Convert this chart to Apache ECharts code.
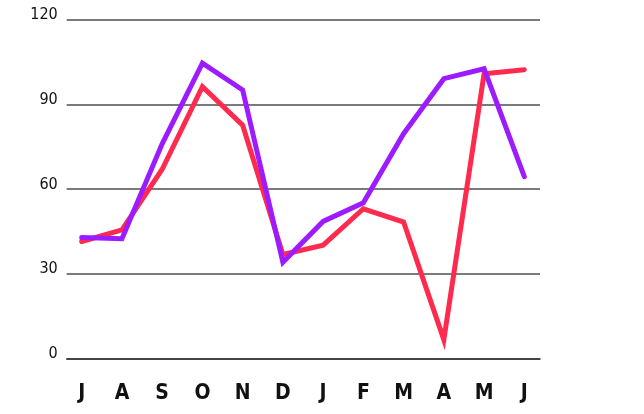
<!DOCTYPE html>
<html>
<head>
<meta charset="utf-8">
<script src="https://cdn.jsdelivr.net/npm/echarts@6/dist/echarts.min.js"></script>
<style>html,body{margin:0;padding:0;background:#fff}#c{width:644px;height:414px}</style>
</head>
<body>
<div id="c"></div>
<script>
const categories = ['J','A','S','O','N','D','J','F','M','A','M','J'];
const redValues = [41.4, 45.5, 67, 96.3, 82.6, 36.8, 40.1, 53, 48.3, 6.6, 100.8, 102.3];
const purpleValues = [42.8, 42.4, 76, 104.6, 95.1, 34, 48.5, 55.1, 79.6, 99.1, 102.6, 64.4];
const yTicks = [0, 30, 60, 90, 120];

const chart = echarts.init(document.getElementById('c'));
const fontFam = "'Liberation Sans Narrow', 'DejaVu Sans Condensed', sans-serif";
chart.setOption({
  animation: false,
  grid: [
    {left: 81.7, right: 119.7, top: 19.7, bottom: 55.7},
    {left: 66.7, right: 104, top: 19.7, bottom: 55.7}
  ],
  xAxis: [
    {type: 'category', gridIndex: 0, data: categories, boundaryGap: false,
     axisLine: {show: false}, axisTick: {show: false}, splitLine: {show: false},
     axisLabel: {margin: 25, fontSize: 21, fontWeight: 'bold', color: '#111', fontFamily: fontFam, interval: 0}},
    {type: 'category', gridIndex: 1, data: categories,
     axisLine: {show: true, lineStyle: {color: '#333', width: 1.5}},
     axisTick: {show: false}, axisLabel: {show: false}, splitLine: {show: false}}
  ],
  yAxis: [
    {type: 'value', gridIndex: 0, min: yTicks[0], max: yTicks[yTicks.length-1], interval: 30, show: false, splitLine: {show: false}},
    {type: 'value', gridIndex: 1, min: yTicks[0], max: yTicks[yTicks.length-1], interval: 30,
     axisLine: {show: false}, axisTick: {show: false},
     splitLine: {show: true, lineStyle: {color: '#7a7a7a', width: 2}},
     axisLabel: {margin: 9, fontSize: 16, color: '#111', fontFamily: fontFam, verticalAlign: 'bottom', lineHeight: 9}}
  ],
  series: [
    {type: 'line', xAxisIndex: 0, yAxisIndex: 0, data: redValues, symbol: 'none',
     lineStyle: {color: '#FF2B4E', width: 5, cap: 'round', join: 'miter'}},
    {type: 'line', xAxisIndex: 0, yAxisIndex: 0, data: purpleValues, symbol: 'none',
     lineStyle: {color: '#9D1CFF', width: 5, cap: 'round', join: 'miter'}}
  ]
});
</script>
</body>
</html>
